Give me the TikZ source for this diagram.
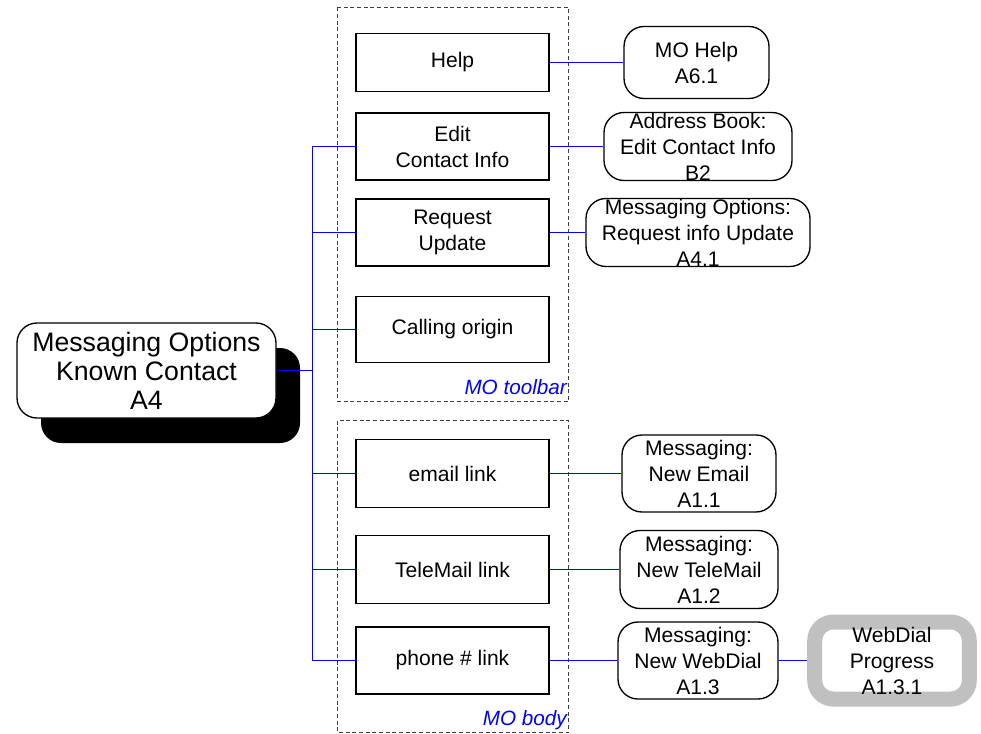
\documentclass[tikz,border=0pt]{standalone}
\usepackage{fontspec}
\setmainfont{Liberation Sans}
\usetikzlibrary{shadows}

\definecolor{wireblue}{RGB}{0,0,255}
\definecolor{bordergray}{RGB}{192,192,192}

\tikzset{
  wire/.style={draw=wireblue, line width=0.75pt},
  itembox/.style={draw, line width=1pt, fill=white, minimum width=144.75pt,
    inner sep=0pt, align=center, font=\fontsize{15.8pt}{19.5pt}\selectfont},
  linkbox/.style={draw, line width=1pt, fill=white, rounded corners=15pt,
    inner sep=0pt, align=center, font=\fontsize{15.8pt}{19.5pt}\selectfont},
  groupbox/.style={draw=black!75, line width=0.75pt, dash pattern=on 3pt off 2pt},
  grouplabel/.style={text=wireblue, inner sep=0pt,
    font=\fontsize{15.5pt}{18pt}\selectfont\itshape}
}

\begin{document}
\begin{tikzpicture}[x=0.75pt,y=-0.75pt]
  \fill[white] (0,0) rectangle (981,734);
  \useasboundingbox (0,0) rectangle (981,734);

  % groups
  \draw[groupbox] (337.5,7.5) rectangle (568.5,401.5);
  \draw[groupbox] (337.5,420.5) rectangle (568.5,732.5);
  \node[grouplabel, anchor=base east] (toolbarlabel) at (567,394) {MO toolbar};
  \node[grouplabel, anchor=base east] (bodylabel) at (567,725) {MO body};

  % main screen
  \node[linkbox, rounded corners=15pt, minimum width=194.25pt, minimum height=71.25pt,
    font=\fontsize{20pt}{21.75pt}\selectfont,
    drop shadow={shadow xshift=18pt, shadow yshift=-18.75pt, fill=black, opacity=1}]
    (main) at (146.5,370.5) {Messaging Options\\Known Contact\\A4};
  \coordinate (hub) at (312.5,370.5);

  % items
  \foreach \n/\y/\h/\t in
    {help/62.5/58/Help,
     edit/146.5/67/{Edit\\Contact Info},
     request/232.5/67/{Request\\Update},
     calling/329.5/66/Calling origin,
     email/473.5/68/email link,
     telemail/569.5/68/TeleMail link,
     phone/660.5/67/phone \# link}
    {\node[itembox, minimum height=\h*0.75pt] (\n) at (452.5,\y) {\t};}

  % targets
  \foreach \n/\x/\y/\w/\h/\t in
    {mohelp/696.5/62.5/145/72/{MO Help\\A6.1},
     addrbook/698/146.5/188/68/{Address Book:\\Edit Contact Info\\B2},
     reqinfo/698/232.5/224/68/{Messaging Options:\\Request info Update\\A4.1},
     newemail/699/473.5/154/77/{Messaging:\\New Email\\A1.1},
     newtele/699/569.5/158/78/{Messaging:\\New TeleMail\\A1.2},
     newweb/698/660.5/160/77/{Messaging:\\New WebDial\\A1.3}}
    {\node[linkbox, minimum width=\w*0.75pt, minimum height=\h*0.75pt]
      (\n) at (\x,\y) {\t};}

  % connectors
  \draw[wire] (main.east) -- (hub);
  \foreach \n in {edit,request,calling,email,telemail,phone}
    {\draw[wire] (\n.west) -| (hub);}
  \foreach \a/\b in {help/mohelp,edit/addrbook,request/reqinfo,
    email/newemail,telemail/newtele,phone/newweb}
    {\draw[wire] (\a.east) -- (\b.west);}
  \draw[wire] (newweb.east) -- (892,660.5);

  \node[linkbox, draw=bordergray, line width=11.25pt,
    rounded corners=14pt, minimum width=115.9pt, minimum height=57.75pt]
    (progress) at (892,660.5) {WebDial\\Progress\\A1.3.1};
\end{tikzpicture}
\end{document}
